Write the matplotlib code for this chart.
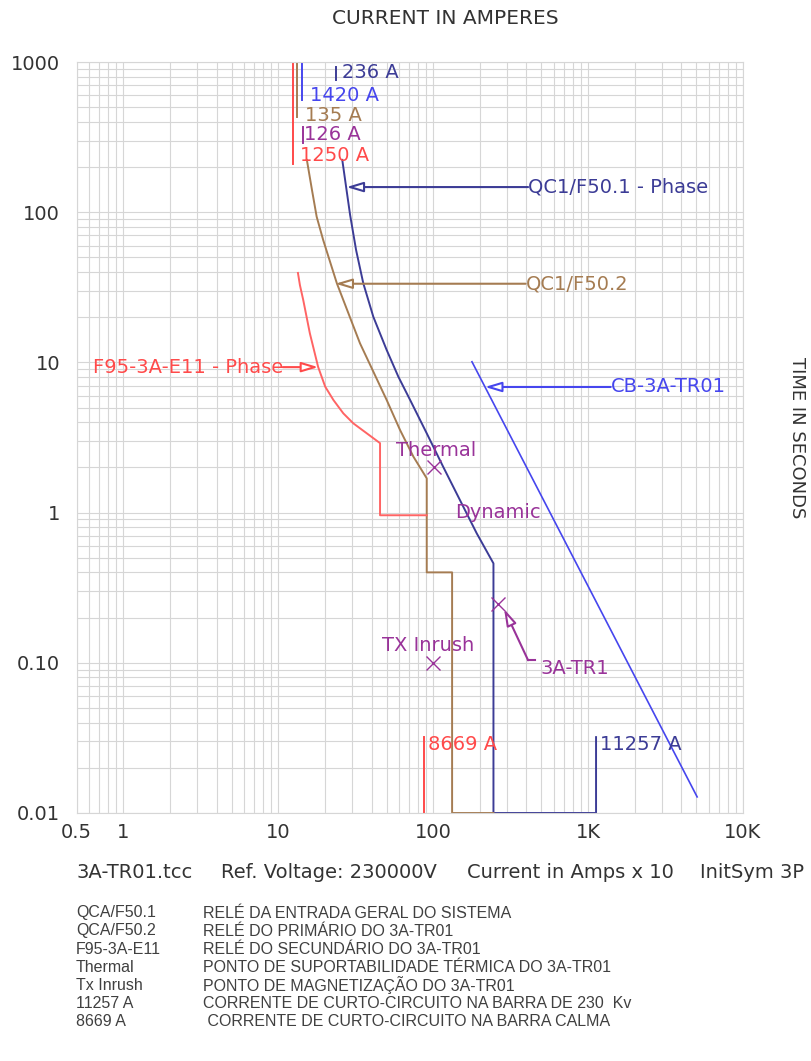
import numpy as np
import matplotlib
matplotlib.use("Agg")
import matplotlib.pyplot as plt
from matplotlib.ticker import LogLocator, NullFormatter

# tick labels
X_TICKS = [0.5, 1, 10, 100, 1000, 10000]
X_TICK_LABELS = ["0.5", "1", "10", "100", "1K", "10K"]
Y_TICKS = [0.01, 0.1, 1, 10, 100, 1000]
Y_TICK_LABELS = ["0.01", "0.10", "1", "10", "100", "1000"]

# curves (current in amps x 10, time in seconds)
qc1_f501_x = [25.9, 27.4, 29.1, 31.8, 35.4, 41.1, 50.1, 59.6, 71.0, 90.9, 116, 149, 191, 245, 245, 1125.7, 1125.7]
qc1_f501_y = [223, 148, 95.8, 56.0, 33.6, 20.1, 12.1, 8.03, 5.62, 3.37, 2.02, 1.21, 0.728, 0.459, 0.01, 0.01, 0.032]

qc1_f502_x = [15.3, 16.5, 17.7, 19.5, 23.9, 33.7, 50.1, 61.1, 74.5, 90.9, 90.9, 132.5, 132.5, 245]
qc1_f502_y = [223, 141, 93.3, 65.3, 33.6, 13.4, 5.62, 3.55, 2.36, 1.69, 0.40, 0.40, 0.01, 0.01]

f95_x = [13.4, 13.8, 14.5, 16.0, 18.1, 20.1, 22.7, 26.3, 30.5, 37.3, 45.4, 45.4, 90.9]
f95_y = [39.4, 32.7, 26.0, 15.6, 9.31, 6.89, 5.62, 4.58, 3.93, 3.37, 2.90, 0.96, 0.96]

cb_x = [178, 5058]
cb_y = [10.1, 0.0128]

# pickup / short circuit markers
red_pickup_x = [12.5, 12.5]
red_pickup_y = [1000, 210]
brown_pickup_x = [13.2, 13.2]
brown_pickup_y = [1000, 430]
blue_pickup_x = [14.2, 14.2]
blue_pickup_y = [1000, 560]
navy_pickup_x = [23.6, 23.6]
navy_pickup_y = [930, 760]
purple_pickup_x = [14.5, 14.5]
purple_pickup_y = [370, 290]
sc_8669_x = [86.69, 86.69]
sc_8669_y = [0.01, 0.032]

# transformer points
tx_names = ["Thermal", "Dynamic", "TX Inrush"]
tx_x = [101, 262, 100]
tx_y = [2.0, 0.246, 0.1]

LEGEND_CODES = ["QCA/F50.1", "QCA/F50.2", "F95-3A-E11", "Thermal", "Tx Inrush", "11257 A", "8669 A"]
LEGEND_TEXT = [
	"RELÉ DA ENTRADA GERAL DO SISTEMA",
	"RELÉ DO PRIMÁRIO DO 3A-TR01",
	"RELÉ DO SECUNDÁRIO DO 3A-TR01",
	"PONTO DE SUPORTABILIDADE TÉRMICA DO 3A-TR01",
	"PONTO DE MAGNETIZAÇÃO DO 3A-TR01",
	"CORRENTE DE CURTO-CIRCUITO NA BARRA DE 230  Kv",
	" CORRENTE DE CURTO-CIRCUITO NA BARRA CALMA",
]

NAVY = "#3c3c96"
BROWN = "#a57c52"
RED = "#ff4a4a"
BLUE = "#4646ee"
PURPLE = "#993399"
GRAY = "#333333"

fig = plt.figure(figsize=(8.11, 10.61), dpi=100)
W, H = 811, 1061
ax = fig.add_axes([76.7 / W, 1 - 813 / H, (743 - 76.7) / W, (813 - 62) / H])
ax.set_xscale("log")
ax.set_yscale("log")
ax.set_xlim(0.5, 10000)
ax.set_ylim(0.01, 1000)

ax.set_xticks(X_TICKS)
ax.set_xticklabels(X_TICK_LABELS)
ax.set_yticks(Y_TICKS)
ax.set_yticklabels(Y_TICK_LABELS)
ax.xaxis.set_minor_locator(LogLocator(base=10, subs=np.arange(2, 10), numticks=30))
ax.yaxis.set_minor_locator(LogLocator(base=10, subs=np.arange(2, 10), numticks=30))
ax.xaxis.set_minor_formatter(NullFormatter())
ax.yaxis.set_minor_formatter(NullFormatter())
ax.tick_params(which="both", length=0)
ax.tick_params(axis="x", pad=7, labelsize=14, labelcolor=GRAY)
ax.tick_params(axis="y", pad=12, labelsize=14, labelcolor=GRAY)
ax.grid(True, which="both", color="#d6d6d6", lw=0.8)
for spine in ax.spines.values():
	spine.set_color("#d6d6d6")
	spine.set_linewidth(0.8)

lw = 1.4
ax.plot(qc1_f501_x, qc1_f501_y, color=NAVY, lw=lw)
ax.plot(qc1_f502_x, qc1_f502_y, color=BROWN, lw=lw)
ax.plot(f95_x, f95_y, color="#ff6464", lw=lw)
ax.plot(cb_x, cb_y, color=BLUE, lw=1.2)

ax.plot(red_pickup_x, red_pickup_y, color=RED, lw=lw)
ax.plot(brown_pickup_x, brown_pickup_y, color=BROWN, lw=lw)
ax.plot(blue_pickup_x, blue_pickup_y, color=BLUE, lw=lw)
ax.plot(navy_pickup_x, navy_pickup_y, color=NAVY, lw=lw)
ax.plot(purple_pickup_x, purple_pickup_y, color=PURPLE, lw=lw)
ax.plot(sc_8669_x, sc_8669_y, color=RED, lw=lw)

# pickup labels
fs = 14
ax.text(25.9, 845, "236 A", color=NAVY, fontsize=fs, va="center")
ax.text(16.0, 602, "1420 A", color=BLUE, fontsize=fs, va="center")
ax.text(14.8, 440, "135 A", color=BROWN, fontsize=fs, va="center")
ax.text(14.6, 327, "126 A", color=PURPLE, fontsize=fs, va="center")
ax.text(13.8, 237, "1250 A", color=RED, fontsize=fs, va="center")
ax.text(92.5, 0.0285, "8669 A", color=RED, fontsize=fs, va="center")
ax.text(1200, 0.0285, "11257 A", color=NAVY, fontsize=fs, va="center")

# curve name arrows
def name_arrow(text, text_xy, tip_xy, color, ha):
	ax.annotate(
		"", xy=tip_xy, xytext=text_xy,
		arrowprops=dict(arrowstyle="-|>,head_length=1.0,head_width=0.3",
						ec=color, fc="white", lw=1.5, shrinkA=0, shrinkB=0),
	)
	ax.text(text_xy[0], text_xy[1], text, color=color, fontsize=fs, ha=ha, va="center")

name_arrow("QC1/F50.1 - Phase", (410, 147), (27.6, 147), NAVY, "left")
name_arrow("QC1/F50.2", (395, 33.4), (23.4, 33.4), BROWN, "left")
name_arrow("F95-3A-E11 - Phase", (10.7, 9.3), (18.1, 9.3), RED, "right")
name_arrow("CB-3A-TR01", (1400, 6.86), (216, 6.86), BLUE, "left")

# transformer points
ax.plot(tx_x, tx_y, linestyle="none", marker="x", markersize=10, mew=1.0, color=PURPLE)
ax.text(104.5, 2.61, tx_names[0], color=PURPLE, fontsize=fs, ha="center", va="center")
ax.text(262, 1.0, tx_names[1], color=PURPLE, fontsize=fs, ha="center", va="center")
ax.text(92.7, 0.131, tx_names[2], color=PURPLE, fontsize=fs, ha="center", va="center")

ax.plot([455, 410], [0.104, 0.104], color=PURPLE, lw=1.5)
ax.annotate(
	"", xy=(287, 0.228), xytext=(410, 0.104),
	arrowprops=dict(arrowstyle="-|>,head_length=1.0,head_width=0.3",
					ec=PURPLE, fc="white", lw=1.5, shrinkA=0, shrinkB=0),
)
ax.text(490, 0.0923, "3A-TR1", color=PURPLE, fontsize=fs, va="center")

# axis titles
fig.text(445 / W, 1 - 18 / H, "CURRENT IN AMPERES", fontsize=14.5, color=GRAY, ha="center", va="center")
fig.text(797 / W, 1 - 438 / H, "TIME IN SECONDS", fontsize=13, color=GRAY, ha="center", va="center", rotation=270)

# footer
footer_y = 1 - 873 / H
fig.text(76 / W, footer_y, "3A-TR01.tcc", fontsize=14, color=GRAY, va="center")
fig.text(221 / W, footer_y, "Ref. Voltage: 230000V", fontsize=14, color=GRAY, va="center")
fig.text(467 / W, footer_y, "Current in Amps x 10", fontsize=14, color=GRAY, va="center")
fig.text(700 / W, footer_y, "InitSym 3P", fontsize=14, color=GRAY, va="center")

# legend table
row_y = [913, 931, 949, 967, 985, 1003, 1021]
for code, desc, py in zip(LEGEND_CODES, LEGEND_TEXT, row_y):
	fig.text(76 / W, 1 - py / H, code, fontsize=11.5, color="#404040", va="center", family="Liberation Sans")
	fig.text(203 / W, 1 - py / H, desc, fontsize=11.5, color="#404040", va="center", family="Liberation Sans")

fig.savefig("out.png", dpi=100, facecolor="white")
